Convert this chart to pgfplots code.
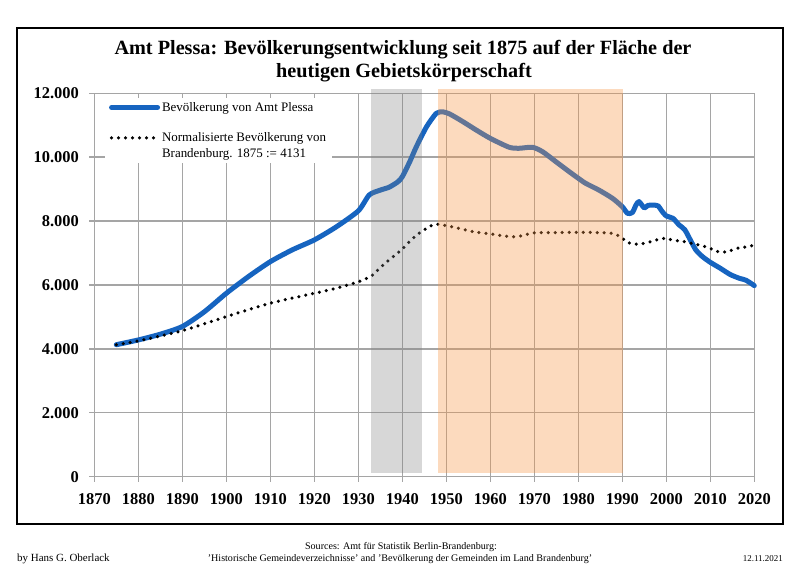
\documentclass[border=0pt]{standalone}
\usepackage{fontspec}
\setmainfont{Liberation Serif}
\usepackage{pgfplots}
\pgfplotsset{compat=1.18}
\definecolor{plessablue}{RGB}{22,100,192}
\definecolor{gridgray}{RGB}{165,165,165}
\definecolor{ddrorange}{RGB}{247,150,70}
\pgfplotsset{dotlegend/.style={legend image code/.code={\draw[##1] (0bp,8bp) -- (46bp,8bp);}}}
\begin{document}
\begin{tikzpicture}
\useasboundingbox (0,0) rectangle (800bp,566bp);
\fill[white] (0,0) rectangle (800bp,566bp);
\draw[line width=2bp] (17bp,42bp) rectangle (783bp,538bp);
\node[anchor=base, inner sep=0pt, font=\bfseries\fontsize{20.3}{22}\selectfont] at (403bp,511bp) {Amt Plessa: Bevölkerungsentwicklung seit 1875 auf der Fläche der};
\node[anchor=base, inner sep=0pt, font=\bfseries\fontsize{20.3}{22}\selectfont] at (404bp,488bp) {heutigen Gebietskörperschaft};
\begin{axis}[
  at={(94.3bp,89.3bp)}, anchor=south west,
  scale only axis, width=660bp, height=383.4bp,
  xmin=1870, xmax=2020, ymin=0, ymax=12000,
  scaled y ticks=false,
  xtick={1870,1880,1890,1900,1910,1920,1930,1940,1950,1960,1970,1980,1990,2000,2010,2020},
  xticklabels={1870,1880,1890,1900,1910,1920,1930,1940,1950,1960,1970,1980,1990,2000,2010,2020},
  ytick={0,2000,4000,6000,8000,10000,12000},
  yticklabels={0,2.000,4.000,6.000,8.000,10.000,12.000},
  grid=major, grid style={draw=gridgray, line width=1.4bp},
  axis line style={draw=gridgray, line width=1.4bp},
  tick style={draw=gridgray, line width=1.4bp},
  tick align=outside, major tick length=5bp, tick pos=left,
  ticklabel style={font=\bfseries\fontsize{16.5}{18}\selectfont},
  xticklabel style={yshift=-8bp},
  yticklabel style={xshift=-7bp},
  clip=false,
  legend style={at={(axis cs:1872.4,11853)}, anchor=north west, draw=none, fill=white,
    font=\fontsize{13}{16}\selectfont, inner xsep=4bp, inner ysep=2bp, row sep=16bp,
    cells={anchor=west, align=left}},
  legend cell align=left,
  legend image code/.code={\draw[#1] (0bp,0bp) -- (46bp,0bp);},
]
\addplot[plessablue, line width=5bp, line join=round, line cap=round, smooth, tension=0.4] coordinates {
(1875,4131) (1880,4280) (1885,4460) (1890,4700) (1895,5160) (1900,5740) (1905,6260)
(1910,6730) (1915,7100) (1920,7410) (1925,7820) (1930,8320) (1932.5,8820) (1935,8970)
(1937,9060) (1939,9230) (1940,9390) (1941.7,9860) (1943.2,10330) (1945.5,10950)
(1947.7,11370) (1949.2,11420) (1950.8,11350) (1953.8,11110) (1956.8,10850) (1960,10590)
(1964.3,10310) (1966.6,10280) (1969.6,10310) (1971.9,10170) (1974.9,9860) (1977.9,9550)
(1980,9340) (1981.7,9180) (1984.7,8970) (1987.8,8710) (1990,8450) (1991.2,8240)
(1992.3,8270) (1993.1,8500) (1993.8,8610) (1995,8410) (1995.8,8490) (1997.3,8500)
(1998.2,8470) (1998.9,8330) (2000,8160) (2001.5,8090) (2002.9,7880) (2004.2,7730)
(2005.5,7400) (2006.7,7100) (2008.2,6890) (2010,6710) (2012.2,6530) (2014.5,6330)
(2016.6,6210) (2018.1,6150) (2020,5980)};
\addlegendentry{Bevölkerung von Amt Plessa}
\addplot[black, line width=3.5bp, line cap=round, dash pattern=on 0bp off 7bp, smooth, tension=0.4,
  dotlegend] coordinates {
(1875,4131) (1880,4250) (1890,4570) (1900,5010) (1910,5430) (1920,5740) (1925,5900)
(1930,6100) (1933,6280) (1935,6550) (1937.4,6830) (1939.8,7100) (1942,7410) (1944.3,7670)
(1946.9,7880) (1948.4,7900) (1952,7800) (1956,7670) (1960,7600) (1964,7520) (1966,7510)
(1970,7630) (1975,7640) (1980,7650) (1985,7640) (1988,7610) (1989.8,7490) (1991,7350)
(1992.5,7280) (1994,7280) (1995.5,7320) (1996.8,7370) (1998.2,7430) (1999.7,7460)
(2001.3,7410) (2002.8,7380) (2004.3,7350) (2005.9,7300) (2007.4,7250) (2008.9,7200)
(2010,7150) (2011.2,7060) (2012.7,7030) (2014.2,7050) (2015.5,7130) (2017,7170)
(2018.6,7200) (2020,7250)};
\addlegendentry{Normalisierte Bevölkerung von\\Brandenburg. 1875 := 4131}
\addplot[draw=none, fill=gray, fill opacity=0.31, forget plot] coordinates {
(1932.8,120) (1944.5,120) (1944.5,12120) (1932.8,12120)} -- cycle;
\addplot[draw=none, fill=ddrorange, fill opacity=0.35, forget plot] coordinates {
(1948,110) (1990.2,110) (1990.2,12120) (1948,12120)} -- cycle;
\end{axis}
\node[anchor=base west, inner sep=0pt, font=\fontsize{11}{13}\selectfont] at (17bp,4.3bp) {by Hans G. Oberlack};
\node[anchor=base, inner sep=0pt, font=\fontsize{10.1}{12}\selectfont] at (401bp,17bp) {Sources: Amt für Statistik Berlin-Brandenburg:};
\node[anchor=base, inner sep=0pt, font=\fontsize{10.1}{12}\selectfont] at (400bp,4.3bp) {'Historische Gemeindeverzeichnisse' and 'Bevölkerung der Gemeinden im Land Brandenburg'};
\node[anchor=base east, inner sep=0pt, font=\fontsize{9}{11}\selectfont] at (783bp,5bp) {12.11.2021};
\end{tikzpicture}
\end{document}
